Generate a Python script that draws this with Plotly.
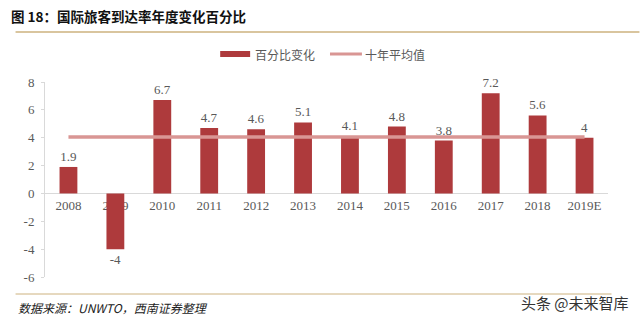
import plotly.graph_objects as go

years = ["2008", "2009", "2010", "2011", "2012", "2013", "2014", "2015", "2016", "2017", "2018", "2019E"]
pct_change = [1.9, -4, 6.7, 4.7, 4.6, 5.1, 4.1, 4.8, 3.8, 7.2, 5.6, 4]
ten_year_avg = [4.05] * len(years)
y_ticks = [-6, -4, -2, 0, 2, 4, 6, 8]
y_tick_text = ["-6", "-4", "-2", "0", "2", "4", "6", "8"]

W, H = 640, 322
L, R, T, B = 44.5, 608.5, 82, 277


def px_x(px):
    return (px - L) / (R - L)


def px_y(py):
    return (B - py) / (B - T)


bar_color = "#AE3A3C"
line_color = "#D99694"
gold = "#CDB27E"
serif = "Liberation Serif, Times New Roman, serif"
cjk = "Noto Sans CJK SC, sans-serif"

fig = go.Figure()
fig.add_trace(go.Bar(
    x=years, y=pct_change, name="百分比变化",
    marker=dict(color=bar_color, line=dict(width=0)),
    text=[f"{v:g}" for v in pct_change], textposition="outside",
    textfont=dict(family=serif, size=13, color="#595959"),
    cliponaxis=False, width=0.38,
))
fig.add_trace(go.Scatter(
    x=years, y=ten_year_avg, name="十年平均值", mode="lines",
    line=dict(color=line_color, width=3.5),
))

ymin, ymax = -6, 8
fig.update_layout(
    width=W, height=H,
    margin=dict(l=L, r=W - R, t=T, b=H - B),
    paper_bgcolor="white", plot_bgcolor="white",
    showlegend=False,
    xaxis=dict(
        type="category", anchor="free",
        position=(0 - ymin) / (ymax - ymin),
        showline=True, linecolor="#D9D9D9", linewidth=1,
        ticks="", showgrid=False, layer="below traces",
        tickfont=dict(family=serif, size=13, color="#595959"),
        range=[-0.5, len(years) - 0.5],
    ),
    yaxis=dict(
        range=[ymin, ymax], tickvals=y_ticks, ticktext=y_tick_text,
        showgrid=False, zeroline=False,
        showline=True, linecolor="#D9D9D9", linewidth=1,
        ticks="outside", ticklen=3, tickcolor="#D9D9D9",
        tickfont=dict(family=serif, size=13, color="#595959"),
        ticklabelstandoff=4,
    ),
)

shapes = [
    dict(type="line", xref="paper", yref="paper", x0=px_x(15), x1=px_x(640), y0=px_y(32), y1=px_y(32),
         line=dict(color=gold, width=1.5)),
    dict(type="line", xref="paper", yref="paper", x0=px_x(15), x1=px_x(612), y0=px_y(294), y1=px_y(294),
         line=dict(color=gold, width=1)),
    # legend symbols
    dict(type="rect", xref="paper", yref="paper", x0=px_x(220), x1=px_x(250), y0=px_y(51), y1=px_y(57),
         fillcolor=bar_color, line=dict(width=0)),
    dict(type="line", xref="paper", yref="paper", x0=px_x(330), x1=px_x(362), y0=px_y(54), y1=px_y(54),
         line=dict(color=line_color, width=3)),
]
fig.update_layout(shapes=shapes)

ann = [
    dict(text="<b>图 18：国际旅客到达率年度变化百分比</b>", x=px_x(8), y=px_y(16), xanchor="left", yanchor="middle",
         font=dict(family=cjk, size=13.5, color="#111111")),
    dict(text="百分比变化", x=px_x(253), y=px_y(54), xanchor="left", yanchor="middle",
         font=dict(family=cjk, size=12, color="#595959")),
    dict(text="十年平均值", x=px_x(363), y=px_y(54), xanchor="left", yanchor="middle",
         font=dict(family=cjk, size=12, color="#595959")),
    dict(text="数据来源：UNWTO，西南证券整理", x=px_x(15), y=px_y(307), xanchor="left", yanchor="middle",
         font=dict(family=cjk, size=12, color="#222222", style="italic")),
    dict(text="头条 @未来智库", x=px_x(632), y=px_y(302), xanchor="right", yanchor="middle",
         font=dict(family=cjk, size=15, color="#333333")),
]
for a in ann:
    a.update(xref="paper", yref="paper", showarrow=False)
fig.update_layout(annotations=ann)

fig.write_html("out.html")
